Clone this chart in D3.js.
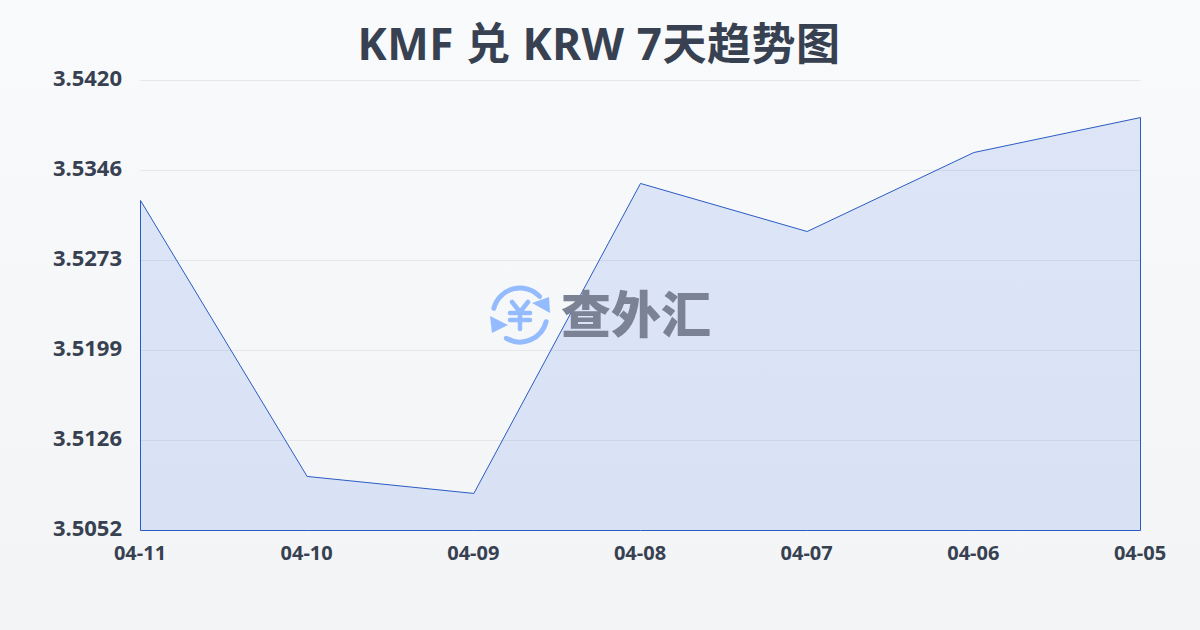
<!DOCTYPE html>
<html>
<head>
<meta charset="utf-8">
<script src="https://cdnjs.cloudflare.com/ajax/libs/d3/7.8.5/d3.min.js"></script>
<style>
  html, body { margin: 0; padding: 0; background: #f9fafb; }
  svg { display: block; }
  text { font-family: "Noto Sans", "Noto Sans CJK SC", sans-serif; }
</style>
</head>
<body>
<div id="chart"></div>
<script>
const dates = ["04-11", "04-10", "04-09", "04-08", "04-07", "04-06", "04-05"];
const rates = [3.53219, 3.50962, 3.50823, 3.53358, 3.52965, 3.53611, 3.53897];
const yTicks = [3.5052, 3.51256, 3.51992, 3.52728, 3.53464, 3.5420];
const yLabels = ["3.5052", "3.5126", "3.5199", "3.5273", "3.5346", "3.5420"];
const titleText = "KMF 兑 KRW 7天趋势图";
const logoText = "查外汇";

const width = 1200, height = 630, margin = { top: 80, right: 60, bottom: 100, left: 140 };
const textColor = "#374151";

const svg = d3.select("#chart").append("svg")
    .attr("width", width)
    .attr("height", height);

const grad = svg.append("defs").append("linearGradient")
    .attr("id", "bg")
    .attr("x1", 0).attr("y1", 0).attr("x2", 0).attr("y2", 1);
grad.append("stop").attr("offset", "0%").attr("stop-color", "#f9fafb");
grad.append("stop").attr("offset", "100%").attr("stop-color", "#f3f4f6");

svg.append("rect").attr("width", width).attr("height", height).attr("fill", "url(#bg)");

svg.append("text")
    .attr("x", 599)
    .attr("y", 60)
    .attr("text-anchor", "middle")
    .attr("font-size", 44)
    .attr("font-weight", 700)
    .attr("letter-spacing", 0.55)
    .attr("fill", textColor)
    .text(titleText);

const x = d3.scalePoint()
    .domain(dates)
    .range([margin.left, width - margin.right]);

const y = d3.scaleLinear()
    .domain([yTicks[0], yTicks[yTicks.length - 1]])
    .range([height - margin.bottom, margin.top]);

const plot = svg.append("g").attr("transform", "translate(0.5,0.5)");

// grid lines
plot.append("g").selectAll("line")
    .data(yTicks)
    .enter()
    .append("line")
    .attr("x1", margin.left)
    .attr("x2", width - margin.right)
    .attr("y1", d => y(d))
    .attr("y2", d => y(d))
    .attr("stroke", "#e5e7eb")
    .attr("stroke-width", 1);

const area = d3.area()
    .x((d, i) => x(dates[i]))
    .y0(y(yTicks[0]))
    .y1(d => y(d));

plot.append("path")
    .datum(rates)
    .attr("d", area)
    .attr("fill", "#2563eb")
    .attr("fill-opacity", 0.13);

// watermark sits above the fill, below the outline
const mark = svg.append("g").attr("transform", "translate(520,315)");
const logoBlue = "#93bbfd";
const topArc = d3.path();
topArc.arc(0, 0, 27, Math.PI + 0.25, 2 * Math.PI - 0.76);
const bottomArc = d3.path();
bottomArc.arc(0, 0, 27, 0.25, 2.1);
[topArc, bottomArc].forEach(p => {
    mark.append("path")
        .attr("d", p.toString())
        .attr("fill", "none")
        .attr("stroke", logoBlue)
        .attr("stroke-width", 5)
        .attr("stroke-linecap", "round");
});
mark.append("path").attr("d", "M30,-2 L12,-12 L29,-18 Z").attr("fill", logoBlue);
mark.append("path").attr("d", "M-30,1 L-12,10 L-28,18 Z").attr("fill", logoBlue);
mark.append("path")
    .attr("d", "M-8,-13 L0,-3 L8,-13 M-10,-2 L10,-2 M-10,5 L10,5 M0,-3 L0,14")
    .attr("fill", "none")
    .attr("stroke", logoBlue)
    .attr("stroke-width", 4.5)
    .attr("stroke-linecap", "round")
    .attr("stroke-linejoin", "round");
svg.append("text")
    .attr("x", 636)
    .attr("y", 333)
    .attr("text-anchor", "middle")
    .attr("font-size", 50)
    .attr("font-weight", 900)
    .attr("fill", "#7a8294")
    .style("font-family", "'Noto Sans CJK SC', sans-serif")
    .text(logoText);

plot.append("path")
    .datum(rates)
    .attr("d", area)
    .attr("fill", "none")
    .attr("stroke", "#2a5bc4")
    .attr("stroke-width", 1);

// y labels
svg.append("g").selectAll("text")
    .data(yTicks)
    .enter()
    .append("text")
    .attr("x", 122)
    .attr("y", d => y(d) + 6)
    .attr("text-anchor", "end")
    .attr("font-size", 22)
    .attr("font-weight", 700)
    .attr("fill", textColor)
    .text((d, i) => yLabels[i]);

// x labels
svg.append("g").selectAll("text")
    .data(dates)
    .enter()
    .append("text")
    .attr("x", d => x(d))
    .attr("y", 560)
    .attr("text-anchor", "middle")
    .attr("font-size", 20)
    .attr("font-weight", 700)
    .attr("fill", textColor)
    .text(d => d);
</script>
</body>
</html>
